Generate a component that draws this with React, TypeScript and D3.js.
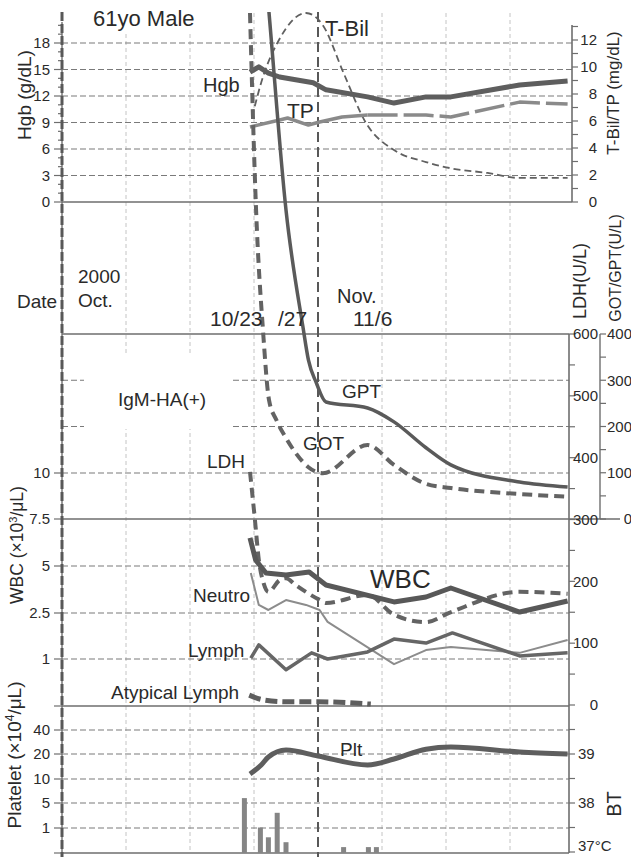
import React from "react";
import * as d3 from "d3";

// x axis: days relative to 10/23
const gridDays = [-8, -4, 0, 8, 12, 16];
const markerDay = 4;

// tick values
const hgbTicks = [0, 3, 6, 9, 12, 15, 18];
const tbilTicks = [0, 2, 4, 6, 8, 10, 12];
const ldhTicks = [0, 100, 200, 300, 400, 500, 600];
const gotTicks = [0, 100, 200, 300, 400];
const wbcTicks = [1, 2.5, 5, 7.5, 10];
const wbcTickLabels = ["1", "2.5", "5", "7.5", "10"];
const pltTicks = [1, 5, 10, 20, 40];
const btTicks = [37, 38, 39];
const btTickLabels = ["37°C", "38", "39"];

// series
const hgbDays = [-0.25, 0.3, 0.9, 1.6, 3.7, 4.5, 7.1, 8.75, 10.75, 12.3, 16.6, 19.6];
const hgbVals = [14.7, 15.3, 14.6, 14.15, 13.5, 12.7, 11.9, 11.2, 11.9, 11.9, 13.25, 13.7];

const tpDays = [-0.25, 1.6, 2.1, 3.4, 4.1, 5.5, 7.1, 10.75, 12.3, 16.6, 19.6];
const tpVals = [5.56, 6.07, 6.22, 5.7, 5.93, 6.3, 6.44, 6.44, 6.3, 7.4, 7.26];

const tbilDays = [-0.125, 0.56, 1.56, 3.25, 4.3, 5.6, 7, 8.75, 10.75, 12.3, 14.6, 16.6, 19.6];
const tbilVals = [6.3, 9.26, 12, 14, 13.1, 9.55, 5.85, 3.85, 2.96, 2.5, 2.15, 1.78, 1.78];

const gotDays = [-0.25, 0.13, 0.56, 0.94, 1.4, 2, 2.6, 3.4, 4.3, 7.1, 8.75, 10.75, 12.3, 16.6, 19.6];
const gotVals = [1094, 668, 409, 257, 214, 175, 143, 112, 99, 160, 117, 76, 67, 54, 48];

const gptDays = [0.5, 0.94, 2, 3.06, 3.4, 3.9, 4.5, 7.1, 8.75, 10.75, 12.3, 16.6, 19.6];
const gptVals = [1270, 1094, 668, 415, 344, 294, 253, 240, 210, 154, 117, 80, 69];

const ldhDays = [-0.25, 0.06, 0.3, 0.6, 0.9, 1.6, 2, 2.6, 4.1, 4.5, 7.1, 8.75, 10.75, 12.2, 16.6, 19.6];
const ldhVals = [377, 299, 235, 197, 183, 202, 205, 194, 170, 165, 178, 146, 134, 149, 183, 180];

const wbcDays = [-0.25, 0.1, 0.75, 2, 3.45, 4.5, 8.75, 10.75, 12.3, 16.6, 19.6];
const wbcVals = [6.49, 5.32, 4.63, 4.52, 4.68, 3.99, 3.09, 3.35, 3.83, 2.55, 3.14];

const neutroDays = [-0.2, 0.3, 0.9, 2, 3.25, 4.1, 4.6, 8.75, 10.75, 12.3, 16.6, 19.6];
const neutroVals = [4.63, 2.93, 2.66, 3.19, 2.93, 2.66, 2.21, 0.89, 1.29, 1.39, 1.2, 1.62];

const lymphDays = [-0.2, 0.3, 2, 3.6, 4.6, 7.1, 8.75, 10.75, 12.4, 16.6, 19.6];
const lymphVals = [1.03, 1.46, 0.77, 1.2, 1.0, 1.23, 1.65, 1.52, 1.85, 1.1, 1.2];

const atypDays = [-0.3, 0.6, 2, 4, 7.3];
const atypVals = [0.23, 0.13, 0.09, 0.09, 0.04];

const pltDays = [-0.25, 0.45, 0.9, 2, 4, 7.1, 8.75, 10.75, 12.3, 16.6, 19.6];
const pltVals = [12, 15.6, 18.8, 23.3, 19.2, 15.6, 18, 24, 25.8, 21.7, 20];

const btDays = [-0.6, 0.4, 0.9, 1.45, 2, 5.6, 7.15, 7.65];
const btVals = [38.1, 37.5, 37.3, 37.8, 37.2, 37.1, 37.1, 37.1];

const FONT = "'Liberation Sans', Arial, Helvetica, sans-serif";
const TXT = "#2a2a2a";
const GRID = "#7a7a7a";
const LIGHT = "#c4c4c4";
const AX = "#6e6e6e";

export default function App() {
  const x = d3.scaleLinear().domain([-12, 19.75]).range([62, 570]);
  const hgbY = d3.scaleLinear().domain([0, 18]).range([202, 43]);
  const tbilY = d3.scaleLinear().domain([0, 12]).range([202, 40]);
  const gotY = d3.scaleLinear().domain([0, 400]).range([519, 334]);
  const ldhY = d3.scaleLinear().domain([0, 600]).range([705, 334]);
  const wbcY = d3.scaleLinear().domain([0, 1, 2.5, 5, 7.5, 10]).range([706, 659, 613, 566, 519, 473]);
  const pltY = d3.scaleLinear().domain([0, 1, 5, 10, 20, 40]).range([853, 828, 803, 779, 754, 730]);
  const btY = d3.scaleLinear().domain([37, 39]).range([852, 754]);

  const path = (days: number[], vals: number[], y: (v: number) => number, curve: any = d3.curveLinear) =>
    d3
      .line<number>()
      .x((_, i) => x(days[i]))
      .y((v) => y(v))
      .curve(curve)(vals) || "";

  const hLine = (yy: number, x1: number, x2: number, dashed: boolean, key: string) => (
    <line
      key={key}
      x1={x1}
      x2={x2}
      y1={yy}
      y2={yy}
      stroke={dashed ? GRID : AX}
      strokeWidth={dashed ? 1.1 : 1.6}
      strokeDasharray={dashed ? "6,3" : undefined}
    />
  );

  const tpSplit = 6;

  return (
    <svg
      width={631}
      height={857}
      style={{ position: "absolute", left: 0, top: 0, background: "#fff" }}
      fontFamily={FONT}
    >
      <defs>
        <clipPath id="plot">
          <rect x={55} y={12} width={522} height={845} />
        </clipPath>
      </defs>
      <rect x={0} y={0} width={631} height={857} fill="#fff" />

      {/* light vertical grid */}
      {gridDays.map((d) => (
        <line key={"vg" + d} x1={x(d)} x2={x(d)} y1={13} y2={853} stroke={LIGHT} strokeWidth={1} strokeDasharray="4,3" />
      ))}

      {/* horizontal grid */}
      {hgbTicks.filter((v) => v > 0).map((v) => hLine(hgbY(v), 62, 572, true, "hg" + v))}
      {[300, 200].map((v) => hLine(gotY(v), 62, 569, true, "gg" + v))}
      {[10, 5, 2.5, 1].map((v) => hLine(wbcY(v), 62, 569, true, "wg" + v))}
      {pltTicks.map((v) => hLine(pltY(v), 62, 569, true, "pg" + v))}
      {hLine(202, 62, 572, false, "s1")}
      {hLine(334, 62, 569, false, "s2")}
      {hLine(519, 62, 620, false, "s3")}
      {hLine(706, 62, 569, false, "s4")}
      {hLine(853, 62, 569, false, "s5")}

      {/* white boxes behind labels */}
      <rect x={64} y={0} width={176} height={31} fill="#fff" />
      <rect x={84} y={356} width={149} height={73} fill="#fff" />

      {/* left axes */}
      <line x1={62} x2={62} y1={22} y2={853} stroke={AX} strokeWidth={1.4} />
      {d3.range(0, 21).map((v) => (
        <line key={"lt" + v} x1={v % 3 === 0 ? 54 : 58} x2={62} y1={hgbY(v)} y2={hgbY(v)} stroke={AX} strokeWidth={1.2} />
      ))}
      {hgbTicks.map((v) => (
        <text key={"ll" + v} x={50} y={hgbY(v)} dy="0.35em" textAnchor="end" fontSize={15} fill={TXT}>
          {v}
        </text>
      ))}
      {[0, ...wbcTicks].map((v) => (
        <line key={"wt" + v} x1={54} x2={62} y1={wbcY(v)} y2={wbcY(v)} stroke={AX} strokeWidth={1.2} />
      ))}
      {wbcTicks.map((v, i) => (
        <text key={"wl" + v} x={50} y={wbcY(v)} dy="0.35em" textAnchor="end" fontSize={15} fill={TXT}>
          {wbcTickLabels[i]}
        </text>
      ))}
      {[0, ...pltTicks].map((v) => (
        <line key={"pt" + v} x1={54} x2={62} y1={pltY(v)} y2={pltY(v)} stroke={AX} strokeWidth={1.2} />
      ))}
      {pltTicks.map((v) => (
        <text key={"pl" + v} x={50} y={pltY(v)} dy="0.35em" textAnchor="end" fontSize={15} fill={TXT}>
          {v}
        </text>
      ))}

      {/* right axes */}
      <line x1={572} x2={572} y1={25} y2={202} stroke={AX} strokeWidth={1.6} />
      {d3.range(0, 14).map((v) => (
        <line key={"rt" + v} x1={572} x2={578} y1={tbilY(v)} y2={tbilY(v)} stroke={AX} strokeWidth={1.2} />
      ))}
      {tbilTicks.map((v) => (
        <text key={"rl" + v} x={597} y={tbilY(v)} dy="0.35em" textAnchor="end" fontSize={15} fill={TXT}>
          {v}
        </text>
      ))}
      <line x1={569} x2={569} y1={334} y2={853} stroke={AX} strokeWidth={1.6} />
      {d3.range(0, 601, 50).map((v) => (
        <line key={"ldt" + v} x1={569} x2={575} y1={ldhY(v)} y2={ldhY(v)} stroke={AX} strokeWidth={1.2} />
      ))}
      {ldhTicks.map((v) => (
        <text key={"ldl" + v} x={598} y={ldhY(v)} dy="0.35em" textAnchor="end" fontSize={15} fill={TXT}>
          {v}
        </text>
      ))}
      <line x1={600} x2={600} y1={334} y2={519} stroke={AX} strokeWidth={1.4} />
      {d3.range(0, 401, 50).map((v) => (
        <line key={"gt" + v} x1={600} x2={606} y1={gotY(v)} y2={gotY(v)} stroke={AX} strokeWidth={1.2} />
      ))}
      {gotTicks.map((v) => (
        <text key={"gl" + v} x={632} y={gotY(v)} dy="0.35em" textAnchor="end" fontSize={15} fill={TXT}>
          {v}
        </text>
      ))}
      {d3.range(37, 39.6, 0.5).map((v) => (
        <line key={"bt" + v} x1={569} x2={575} y1={btY(v)} y2={btY(v)} stroke={AX} strokeWidth={1.2} />
      ))}
      {btTicks.map((v, i) => (
        <text key={"bl" + v} x={578} y={btY(v) - (v === 37 ? 6 : 0)} dy="0.35em" fontSize={15} fill={TXT}>
          {btTickLabels[i]}
        </text>
      ))}

      {/* BT bars */}
      {btVals.map((v, i) => (
        <rect key={"bar" + i} x={x(btDays[i]) - 2.5} width={5} y={btY(v)} height={853 - btY(v)} fill="#858585" />
      ))}

      {/* vertical markers */}
      <line x1={62} x2={62} y1={12} y2={857} stroke="#585858" strokeWidth={3} strokeDasharray="9,3" />
      <line x1={x(markerDay)} x2={x(markerDay)} y1={12} y2={857} stroke="#585858" strokeWidth={2} strokeDasharray="10,5" />

      {/* data lines */}
      <g clipPath="url(#plot)" fill="none" strokeLinejoin="round">
        <path d={path(tbilDays, tbilVals, tbilY, d3.curveMonotoneX)} stroke="#606060" strokeWidth={1.8} strokeDasharray="7,4" />
        <path d={path(tpDays.slice(0, tpSplit + 1), tpVals.slice(0, tpSplit + 1), tbilY)} stroke="#8a8a8a" strokeWidth={3.5} />
        <path d={path(tpDays.slice(tpSplit), tpVals.slice(tpSplit), tbilY)} stroke="#8a8a8a" strokeWidth={3.5} strokeDasharray="30,6" />
        <path d={path(hgbDays, hgbVals, hgbY)} stroke="#5e5e5e" strokeWidth={5} />
        <path d={path(gotDays, gotVals, gotY, d3.curveMonotoneX)} stroke="#636363" strokeWidth={4} strokeDasharray="10,6" />
        <path d={path(gptDays, gptVals, gotY, d3.curveMonotoneX)} stroke="#5a5a5a" strokeWidth={3.5} />
        <path d={path(neutroDays, neutroVals, wbcY)} stroke="#8c8c8c" strokeWidth={2} />
        <path d={path(lymphDays, lymphVals, wbcY)} stroke="#666" strokeWidth={3.5} />
        <path d={path(ldhDays, ldhVals, ldhY, d3.curveMonotoneX)} stroke="#636363" strokeWidth={4} strokeDasharray="10,6" />
        <path d={path(wbcDays, wbcVals, wbcY)} stroke="#585858" strokeWidth={5} />
        <path d={path(atypDays, atypVals, wbcY, d3.curveMonotoneX)} stroke="#5e5e5e" strokeWidth={5} strokeDasharray="12,5" />
        <path d={path(pltDays, pltVals, pltY, d3.curveMonotoneX)} stroke="#5e5e5e" strokeWidth={5} />
      </g>

      {/* labels */}
      <g fill={TXT}>
        <text x={93} y={26} fontSize={22}>61yo Male</text>
        <text x={203} y={92} fontSize={20}>Hgb</text>
        <text x={287} y={118} fontSize={21}>TP</text>
        <text x={325} y={36} fontSize={22}>T-Bil</text>
        <text x={17} y={308} fontSize={19}>Date</text>
        <text x={78} y={283} fontSize={19}>2000</text>
        <text x={78} y={307} fontSize={19}>Oct.</text>
        <text x={210} y={326} fontSize={21}>10/23</text>
        <text x={278} y={326} fontSize={21}>/27</text>
        <text x={337} y={303} fontSize={20}>Nov.</text>
        <text x={353} y={326} fontSize={21}>11/6</text>
        <text x={118} y={406} fontSize={19}>IgM-HA(+)</text>
        <text x={342} y={398} fontSize={19}>GPT</text>
        <text x={303} y={450} fontSize={19}>GOT</text>
        <text x={207} y={468} fontSize={19}>LDH</text>
        <text x={370} y={588} fontSize={26}>WBC</text>
        <text x={193} y={602} fontSize={19}>Neutro</text>
        <text x={188} y={657} fontSize={19}>Lymph</text>
        <text x={111} y={699} fontSize={19}>Atypical Lymph</text>
        <text x={340} y={756} fontSize={19}>Plt</text>

        <text transform="translate(31,95) rotate(-90)" textAnchor="middle" fontSize={19}>Hgb (g/dL)</text>
        <text transform="translate(23,545) rotate(-90)" textAnchor="middle" fontSize={17.5}>
          WBC (×10<tspan dy={-6} fontSize={11}>3</tspan><tspan dy={6}>/μL)</tspan>
        </text>
        <text transform="translate(21,755) rotate(-90)" textAnchor="middle" fontSize={19}>
          Platelet (×10<tspan dy={-7} fontSize={12}>4</tspan><tspan dy={7}>/μL)</tspan>
        </text>
        <text transform="translate(619,93) rotate(-90)" textAnchor="middle" fontSize={17}>T-Bil/TP (mg/dL)</text>
        <text transform="translate(586,281) rotate(-90)" textAnchor="middle" fontSize={18}>LDH(U/L)</text>
        <text transform="translate(621,268) rotate(-90)" textAnchor="middle" fontSize={16}>GOT/GPT(U/L)</text>
        <text transform="translate(621,804) rotate(-90)" textAnchor="middle" fontSize={20}>BT</text>
      </g>
    </svg>
  );
}
